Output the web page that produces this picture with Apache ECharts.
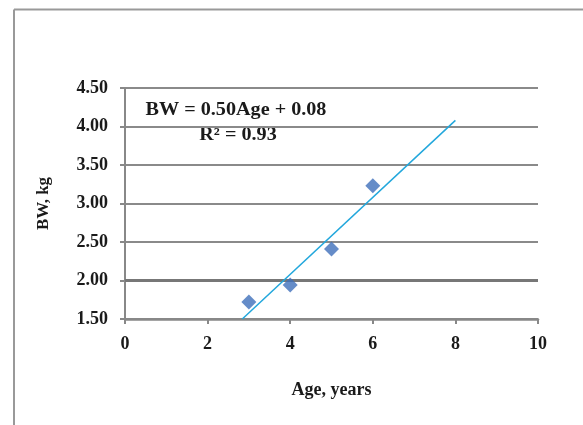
<!DOCTYPE html>
<html><head><meta charset="utf-8">
<script src="https://cdn.jsdelivr.net/npm/echarts@6/dist/echarts.min.js"></script>
<style>html,body{margin:0;padding:0;background:#fff}#c{width:583px;height:425px}</style>
</head><body><div id="c"></div>
<script>
var ageValues = [3, 4, 5, 6];
var bwValues = [1.72, 1.94, 2.41, 3.23];
var trendX = [2.84, 8];
var trendY = [1.50, 4.08];
var xTicks = [0, 2, 4, 6, 8, 10];
var yTicks = [1.5, 2.0, 2.5, 3.0, 3.5, 4.0, 4.5];
var equationText = 'BW = 0.50Age + 0.08';
var r2Text = 'R² = 0.93';
var xTitle = 'Age, years';
var yTitle = 'BW, kg';

var chart = echarts.init(document.getElementById('c'), null, {renderer: 'canvas'});
var font = 'Liberation Serif';
var points = ageValues.map(function (a, i) { return [a, bwValues[i]]; });
var trend = trendX.map(function (x, i) { return [x, trendY[i]]; });
chart.setOption({
  animation: false,
  backgroundColor: '#fff',
  grid: {left: 125, right: 45, top: 88, bottom: 106},
  xAxis: {
    type: 'value', min: xTicks[0], max: xTicks[xTicks.length - 1], interval: 2,
    name: xTitle, nameLocation: 'middle', nameGap: 62,
    nameTextStyle: {fontFamily: font, fontWeight: 'bold', fontSize: 18, color: '#1a1a1a'},
    axisLine: {show: true, lineStyle: {color: '#888', width: 2.5}},
    axisTick: {show: true, length: 5, lineStyle: {color: '#888', width: 2}},
    axisLabel: {fontFamily: font, fontWeight: 'bold', fontSize: 18, color: '#1a1a1a', margin: 16},
    splitLine: {show: false}
  },
  yAxis: {
    type: 'value', min: yTicks[0], max: yTicks[yTicks.length - 1], interval: 0.5,
    name: yTitle, nameLocation: 'middle', nameGap: 73, nameRotate: 90,
    nameTextStyle: {fontFamily: font, fontWeight: 'bold', fontSize: 17, color: '#1a1a1a'},
    axisLine: {show: true, lineStyle: {color: '#888', width: 2}},
    axisTick: {show: true, inside: false, length: 5, lineStyle: {color: '#888', width: 2}},
    axisLabel: {fontFamily: font, fontWeight: 'bold', fontSize: 18, color: '#1a1a1a', margin: 17,
      formatter: function (v) { return v.toFixed(2); }},
    splitLine: {show: true, lineStyle: {color: '#8a8a8a', width: 2}}
  },
  series: [
    {
      type: 'line', data: trend, showSymbol: false, symbol: 'none',
      lineStyle: {color: '#22a7dc', width: 1.5}, z: 3,
      markLine: {
        silent: true, symbol: 'none', label: {show: false},
        lineStyle: {color: '#777', width: 3, type: 'solid'},
        data: [{yAxis: 2.0}], z: 1
      }
    },
    {
      type: 'scatter', data: points, symbol: 'diamond', symbolSize: 15,
      itemStyle: {color: '#3e6fba'}, z: 4
    }
  ],
  graphic: [
    {type: 'line', shape: {x1: 14, y1: 9.5, x2: 583, y2: 9.5}, style: {stroke: '#999', lineWidth: 2}},
    {type: 'line', shape: {x1: 14, y1: 9.5, x2: 14, y2: 425}, style: {stroke: '#999', lineWidth: 2}},
    {type: 'text', x: 236, y: 110, scaleX: 1.12, style: {text: equationText, font: 'bold 18px "Liberation Serif"', fill: '#1a1a1a', align: 'center', verticalAlign: 'middle'}},
    {type: 'text', x: 238, y: 135, scaleX: 1.12, style: {text: r2Text, font: 'bold 18px "Liberation Serif"', fill: '#1a1a1a', align: 'center', verticalAlign: 'middle'}}
  ]
});
</script></body></html>
